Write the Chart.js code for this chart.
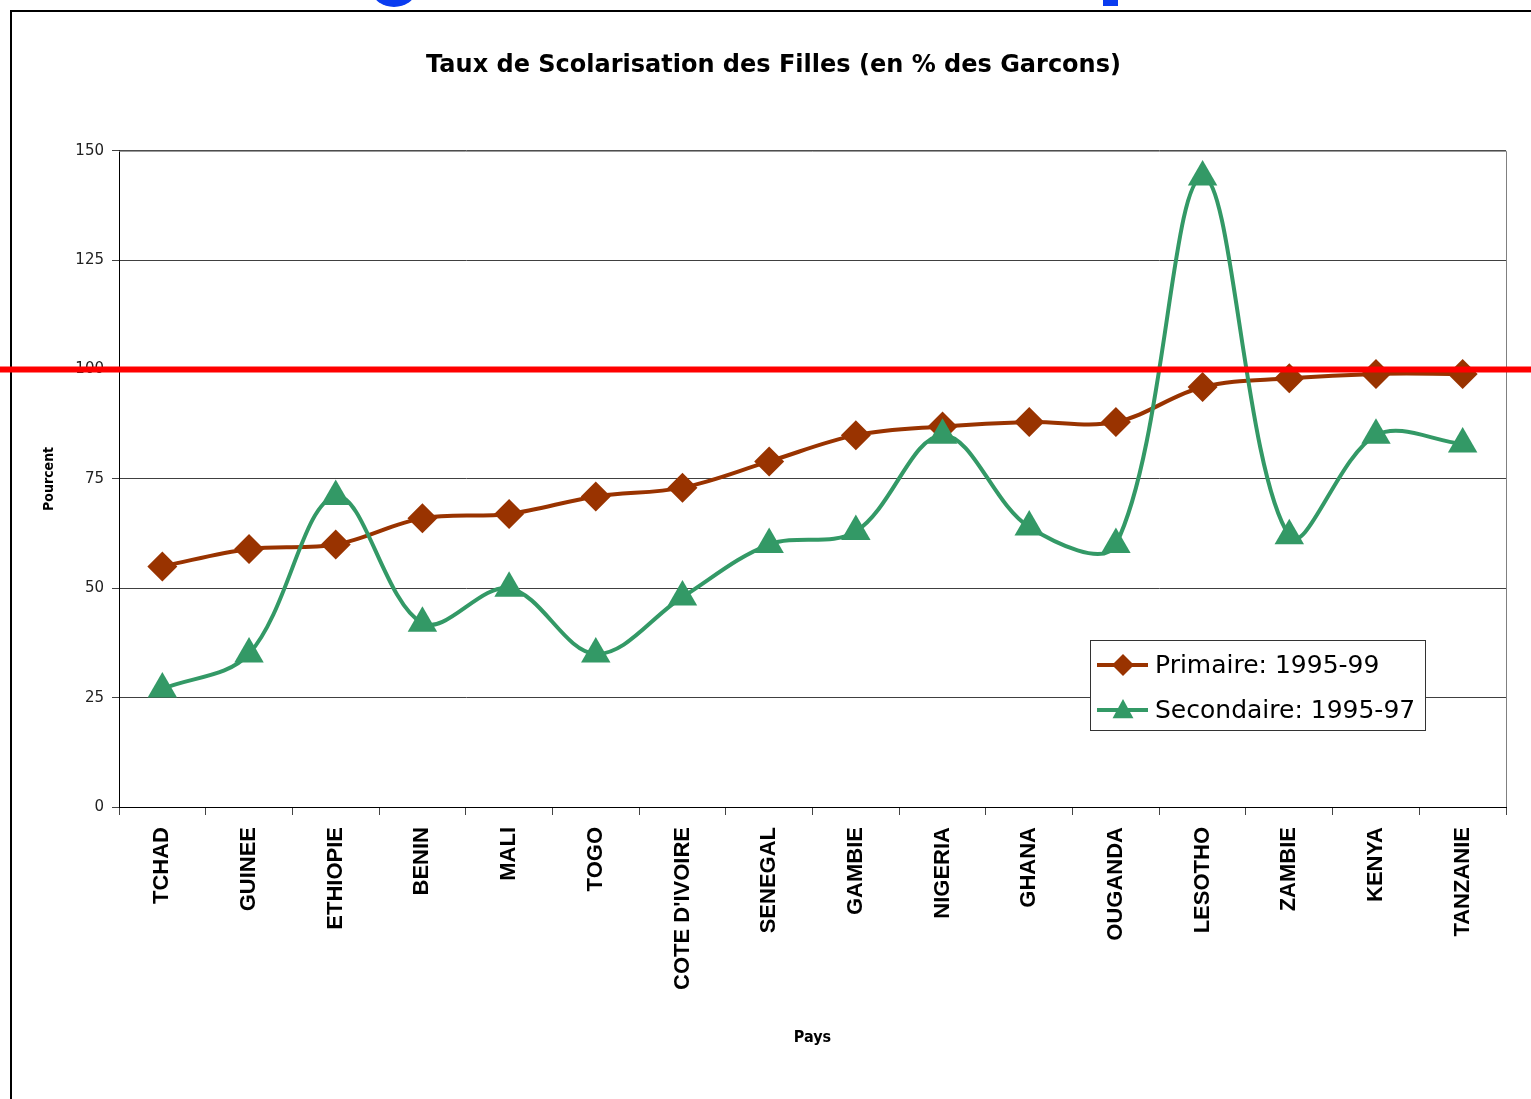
<!DOCTYPE html>
<html>
<head>
<meta charset="utf-8">
<script src="https://cdn.jsdelivr.net/npm/chart.js@4.4.0/dist/chart.umd.min.js"></script>
<style>
  html, body { margin: 0; padding: 0; background: #fff; overflow: hidden; }
  #wrap { position: relative; width: 1531px; height: 1099px; }
</style>
</head>
<body>
<div id="wrap"><canvas id="chart" width="1531" height="1099"></canvas></div>
<script>
// Data
const pays = ['TCHAD', 'GUINEE', 'ETHIOPIE', 'BENIN', 'MALI', 'TOGO', "COTE D'IVOIRE", 'SENEGAL',
  'GAMBIE', 'NIGERIA', 'GHANA', 'OUGANDA', 'LESOTHO', 'ZAMBIE', 'KENYA', 'TANZANIE'];
const primaire = [55, 59, 60, 66, 67, 71, 73, 79, 85, 87, 88, 88, 96, 98, 99, 99];
const secondaire = [27, 35, 71, 42, 50, 35, 48, 60, 63, 85, 64, 60, 144, 62, 85, 83];
const seriesLabels = ['Primaire: 1995-99', 'Secondaire: 1995-97'];
const yMin = 0, yMax = 150, yStep = 25;
const seuilParite = 100;

const BRUN = '#993300';
const VERT = '#339966';

/**
 * Draw a small marker for the legend
 */
function drawMarker(ctx, style, x, y, r, color) {
  ctx.save();
  ctx.fillStyle = color;
  ctx.beginPath();
  if (style === 'diamond') {
    ctx.moveTo(x - r, y);
    ctx.lineTo(x, y - r);
    ctx.lineTo(x + r, y);
    ctx.lineTo(x, y + r);
  } else {
    ctx.moveTo(x, y - r);
    ctx.lineTo(x + r * 0.95, y + r * 0.75);
    ctx.lineTo(x - r * 0.95, y + r * 0.75);
  }
  ctx.closePath();
  ctx.fill();
  ctx.restore();
}

// Frame, plot border, legend box and the red parity line
const decor = {
  id: 'decor',
  afterDatasetsDraw(chart) {
    const ctx = chart.ctx;
    const area = chart.chartArea;

    // plot area border (top / right)
    ctx.save();
    ctx.strokeStyle = '#808080';
    ctx.lineWidth = 1;
    ctx.beginPath();
    ctx.moveTo(area.left, area.top + 0.5);
    ctx.lineTo(area.right + 0.5, area.top + 0.5);
    ctx.lineTo(area.right + 0.5, area.bottom);
    ctx.stroke();
    ctx.restore();

    // legend
    const lx = 1090, ly = 640, lw = 335, lh = 90;
    ctx.save();
    ctx.fillStyle = '#fff';
    ctx.fillRect(lx, ly, lw, lh);
    ctx.strokeStyle = '#333';
    ctx.lineWidth = 1;
    ctx.strokeRect(lx + 0.5, ly + 0.5, lw, lh);
    const rows = [
      { label: seriesLabels[0], color: BRUN, style: 'diamond', y: 665 },
      { label: seriesLabels[1], color: VERT, style: 'triangle', y: 710 }
    ];
    rows.forEach(row => {
      ctx.strokeStyle = row.color;
      ctx.lineWidth = 4;
      ctx.beginPath();
      ctx.moveTo(1097, row.y);
      ctx.lineTo(1148, row.y);
      ctx.stroke();
      drawMarker(ctx, row.style, 1123, row.y, 11, row.color);
      ctx.fillStyle = '#000';
      ctx.font = '25px "DejaVu Sans"';
      ctx.textBaseline = 'middle';
      ctx.textAlign = 'left';
      ctx.fillText(row.label, 1155, row.y + 1);
    });
    ctx.restore();
  },
  afterDraw(chart) {
    const ctx = chart.ctx;
    const W = chart.width, H = chart.height;

    // cropped blue heading fragments at the very top
    ctx.save();
    ctx.beginPath();
    ctx.rect(0, 0, W, 9);
    ctx.clip();
    ctx.fillStyle = '#0A3CF0';
    ctx.beginPath();
    ctx.ellipse(394, -8, 21, 15, 0, 0, Math.PI * 2);
    ctx.fill();
    ctx.fillRect(1103, 0, 15, 6);
    ctx.restore();

    // outer frame
    ctx.save();
    ctx.strokeStyle = '#000';
    ctx.lineWidth = 2;
    ctx.beginPath();
    ctx.moveTo(11, H);
    ctx.lineTo(11, 11);
    ctx.lineTo(W, 11);
    ctx.stroke();
    ctx.restore();

    // red parity line at 100 %
    const y = chart.scales.y.getPixelForValue(seuilParite);
    ctx.save();
    ctx.strokeStyle = '#FF0000';
    ctx.lineWidth = 6;
    ctx.beginPath();
    ctx.moveTo(0, y);
    ctx.lineTo(W, y);
    ctx.stroke();
    ctx.restore();
  }
};

const ctx = document.getElementById('chart');

new Chart(ctx, {
  type: 'line',
  data: {
    labels: pays,
    datasets: [
      {
        label: seriesLabels[0],
        data: primaire,
        borderColor: BRUN,
        backgroundColor: BRUN,
        borderWidth: 4,
        tension: 0.35,
        pointStyle: 'rectRot',
        pointRadius: 15,
        pointBorderWidth: 0,
        pointBackgroundColor: BRUN,
        clip: false,
        order: 1
      },
      {
        label: seriesLabels[1],
        data: secondaire,
        borderColor: VERT,
        backgroundColor: VERT,
        borderWidth: 4,
        tension: 0.35,
        pointStyle: 'triangle',
        pointRadius: 17,
        pointBorderWidth: 0,
        pointBackgroundColor: VERT,
        clip: false,
        order: 0
      }
    ]
  },
  options: {
    responsive: false,
    animation: false,
    events: [],
    layout: {
      padding: { left: 41, right: 25, top: 0, bottom: 52 }
    },
    scales: {
      x: {
        type: 'category',
        offset: true,
        grid: {
          offset: true,
          drawOnChartArea: false,
          drawTicks: true,
          tickLength: 8,
          color: '#444'
        },
        border: { display: true, color: '#000', width: 1 },
        ticks: {
          autoSkip: false,
          minRotation: 90,
          maxRotation: 90,
          padding: 12,
          color: '#000',
          font: { family: '"Liberation Sans", Arial, sans-serif', size: 22, weight: 'bold' }
        },
        title: {
          display: true,
          text: 'Pays',
          color: '#000',
          padding: 0,
          font: { family: '"DejaVu Sans Condensed", "DejaVu Sans", sans-serif', size: 16, weight: 'bold', lineHeight: 1.2 }
        },
        afterFit(scale) { scale.height = 240; }
      },
      y: {
        min: yMin,
        max: yMax,
        ticks: {
          stepSize: yStep,
          padding: 8,
          color: '#222',
          font: { family: '"DejaVu Sans", sans-serif', size: 15 }
        },
        grid: {
          color: '#404040',
          lineWidth: 1,
          tickLength: 7
        },
        border: { display: true, color: '#000', width: 1 },
        title: {
          display: true,
          text: 'Pourcent',
          color: '#000',
          padding: 0,
          font: { family: '"DejaVu Sans Condensed", "DejaVu Sans", sans-serif', size: 14, weight: 'bold', lineHeight: 1.2 }
        },
        afterFit(scale) { scale.width = 78; }
      }
    },
    plugins: {
      legend: { display: false },
      tooltip: { enabled: false },
      title: {
        display: true,
        text: 'Taux de Scolarisation des Filles (en % des Garcons)',
        color: '#000',
        padding: { top: 51, bottom: 71 },
        font: { family: '"DejaVu Sans", sans-serif', size: 24, weight: 'bold', lineHeight: 1.2 }
      }
    }
  },
  plugins: [decor]
});
</script>
</body>
</html>
